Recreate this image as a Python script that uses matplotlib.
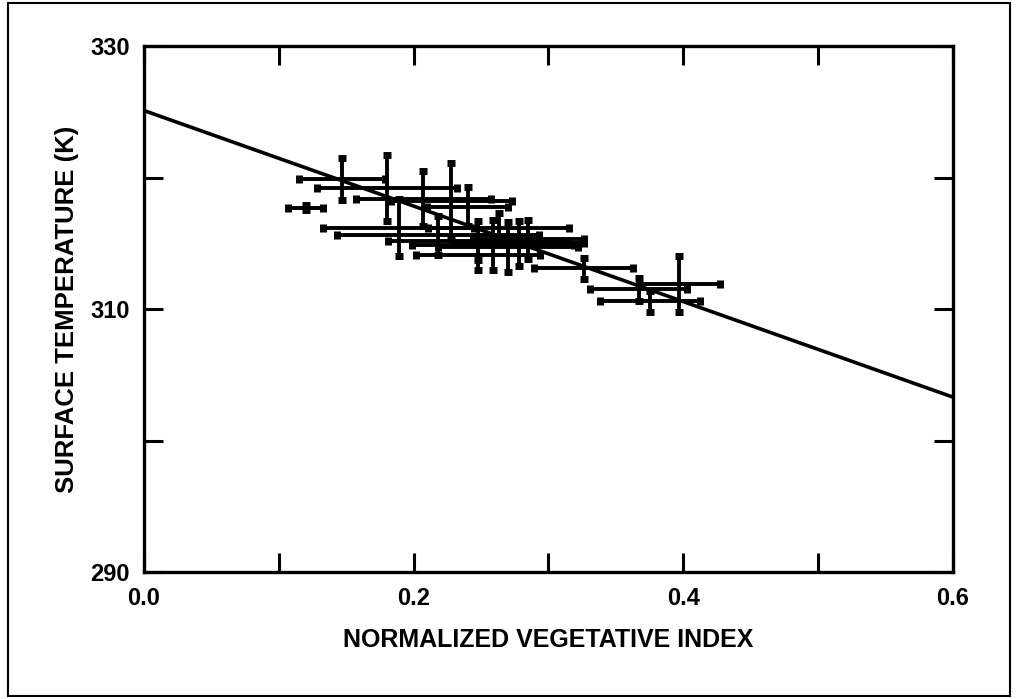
import matplotlib
matplotlib.use("Agg")
import matplotlib.pyplot as plt
from matplotlib.patches import Rectangle

plt.rcParams['font.family'] = ['Liberation Sans', 'DejaVu Sans']

# data: NDVI centers, temperature centers, and error half-widths
ndvi = [0.147, 0.180, 0.207, 0.228, 0.120, 0.189, 0.218, 0.248, 0.259,
        0.270, 0.278, 0.285, 0.248, 0.326, 0.367, 0.397, 0.375, 0.240, 0.263]
temp = [319.9, 319.2, 318.4, 318.2, 317.7, 316.2, 315.6, 315.2, 314.9,
        314.7, 315.0, 315.3, 314.1, 313.1, 311.5, 311.9, 310.6, 317.8, 316.2]
ndvi_err = [0.032, 0.052, 0.050, 0.045, 0.013, 0.056, 0.075, 0.067, 0.060,
            0.052, 0.048, 0.041, 0.046, 0.037, 0.036, 0.030, 0.037, 0.030, 0.052]
temp_err = [1.6, 2.5, 2.1, 2.9, 0.2, 2.2, 1.5, 1.5, 1.9, 1.9, 1.7, 1.5,
            1.1, 0.8, 0.9, 2.1, 0.8, 1.5, 1.1]

fit_x = [0.0, 0.6]
fit_y = [325.1, 303.3]

x_ticks = [0.0, 0.1, 0.2, 0.3, 0.4, 0.5, 0.6]
x_labels = ["0.0", "", "0.2", "", "0.4", "", "0.6"]
y_ticks = [290, 300, 310, 320, 330]
y_labels = ["290", "", "310", "", "330"]

fig = plt.figure(figsize=(10.16, 6.99), dpi=100)
ax = fig.add_axes([0.1417, 0.1817, 0.7963, 0.7523])

ax.plot(fit_x, fit_y, color='black', lw=2.6, solid_capstyle='butt', zorder=3)
ax.errorbar(ndvi, temp, xerr=ndvi_err, yerr=temp_err, fmt='none',
            ecolor='black', elinewidth=2.8, capsize=3.2, capthick=5, zorder=4)

ax.set_xlim(0.0, 0.6)
ax.set_ylim(290, 330)
ax.set_xticks(x_ticks)
ax.set_xticklabels(x_labels)
ax.set_yticks(y_ticks)
ax.set_yticklabels(y_labels)
ax.tick_params(axis='both', direction='in', length=14, width=2.2,
               top=True, right=True, labelsize=17)
ax.tick_params(axis='x', pad=11)
ax.tick_params(axis='y', pad=10)
for lab in ax.get_xticklabels() + ax.get_yticklabels():
    lab.set_fontweight('bold')
for s in ax.spines.values():
    s.set_linewidth(2.4)

ax.set_xlabel("NORMALIZED VEGETATIVE INDEX", fontsize=18,
              fontweight='bold', labelpad=13)
ax.set_ylabel("SURFACE TEMPERATURE (K)", fontsize=18.5,
              fontweight='bold', labelpad=8)

fig.patches.append(Rectangle((8/1016, 3/699), 1002/1016, 693/699,
                             transform=fig.transFigure, fill=False,
                             edgecolor='black', lw=1.5))

fig.savefig("out.png", dpi=100)
